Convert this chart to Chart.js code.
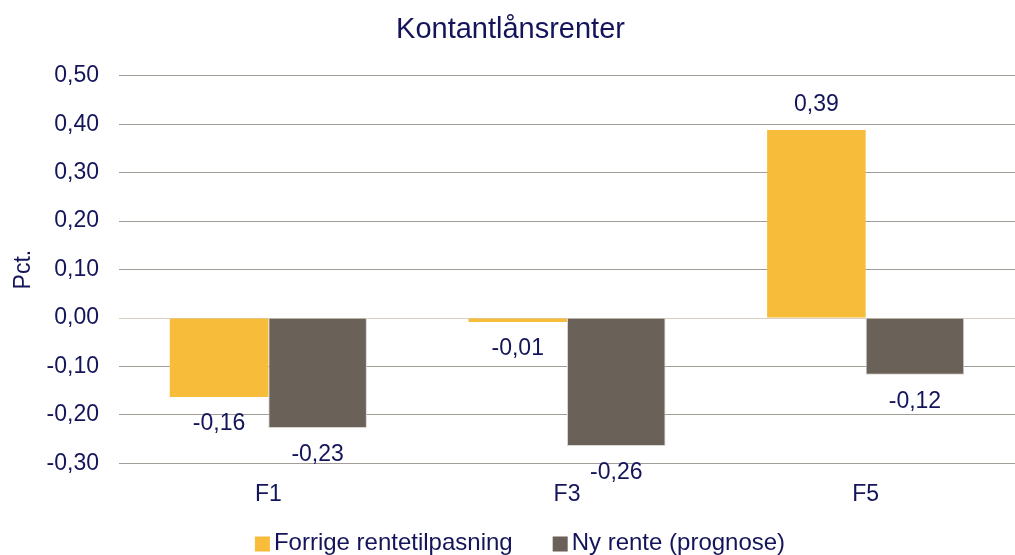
<!DOCTYPE html>
<html>
<head>
<meta charset="utf-8">
<script src="https://cdn.jsdelivr.net/npm/chart.js@4"></script>
<style>
  html, body { margin: 0; padding: 0; background: #fff; }
  #wrap { width: 1015px; height: 555px; }
</style>
</head>
<body>
<div id="wrap"><canvas id="myChart" width="1015" height="555"></canvas></div>
<script>
// data
const categories = ['F1', 'F3', 'F5'];
const forrige = [-0.163, -0.008, 0.388];
const nyRente = [-0.227, -0.264, -0.117];
const yTicks = [-0.3, -0.2, -0.1, 0, 0.1, 0.2, 0.3, 0.4, 0.5];

const textColor = '#14145a';
const fontFam = '"Liberation Sans", Arial, sans-serif';
const fmt = v => v.toFixed(2).replace('.', ',');

// value labels: above positive bars, below negative
const barLabels = {
  id: 'barLabels',
  afterDatasetsDraw(chart) {
    const ctx = chart.ctx;
    ctx.save();
    ctx.font = '23px ' + fontFam;
    ctx.fillStyle = textColor;
    ctx.textAlign = 'center';
    ctx.textBaseline = 'middle';
    chart.data.datasets.forEach((ds, i) => {
      chart.getDatasetMeta(i).data.forEach((bar, j) => {
        const v = ds.data[j];
        const y = v >= 0 ? bar.y - 25 : bar.y + 27;
        ctx.fillText(fmt(v), bar.x, y);
      });
    });
    ctx.restore();
  }
};

// legend drawn by hand so the items can sit far apart but close to the bottom
const bottomLegend = {
  id: 'bottomLegend',
  afterDraw(chart) {
    const ctx = chart.ctx;
    const box = 15, gap = 4, spacing = 40, y = 543;
    ctx.save();
    ctx.font = '24px ' + fontFam;
    ctx.textBaseline = 'middle';
    const items = chart.data.datasets.map(ds => ({
      text: ds.label, color: ds.backgroundColor, w: ctx.measureText(ds.label).width
    }));
    let total = 0;
    items.forEach((it, i) => { total += box + gap + it.w + (i ? spacing : 0); });
    let x = 520 - total / 2;
    items.forEach(it => {
      ctx.fillStyle = it.color;
      ctx.fillRect(x, y - box / 2 + 1, box, box);
      ctx.fillStyle = textColor;
      ctx.fillText(it.text, x + box + gap, y);
      x += box + gap + it.w + spacing;
    });
    ctx.restore();
  }
};

const config = {
  type: 'bar',
  data: {
    labels: categories,
    datasets: [{
      label: 'Forrige rentetilpasning',
      data: forrige,
      backgroundColor: '#f8bc3b',
      categoryPercentage: 0.66,
      barPercentage: 1
    }, {
      label: 'Ny rente (prognose)',
      data: nyRente,
      backgroundColor: '#6a6158',
      borderColor: '#d8d4cf',
      borderWidth: 1,
      categoryPercentage: 0.66,
      barPercentage: 1
    }]
  },
  options: {
    responsive: false,
    animation: false,
    layout: { padding: { left: 6, right: 0, top: 0, bottom: 38 } },
    plugins: {
      title: {
        display: true,
        text: 'Kontantlånsrenter',
        color: textColor,
        font: { family: fontFam, size: 29, weight: 'normal' },
        padding: { top: 13, bottom: 28 }
      },
      legend: { display: false },
      tooltip: { enabled: false }
    },
    scales: {
      x: {
        grid: { display: false },
        border: { display: false },
        ticks: {
          color: textColor,
          font: { family: fontFam, size: 23 },
          padding: 9
        }
      },
      y: {
        min: -0.3,
        max: 0.5,
        afterBuildTicks: axis => { axis.ticks = yTicks.map(v => ({ value: v })); },
        afterFit: axis => { axis.width = 113; },
        border: { display: false },
        grid: {
          color: ctx => ctx.tick && ctx.tick.value === 0 ? '#d9cfc2' : '#a39d97',
          lineWidth: 1,
          drawTicks: false
        },
        ticks: {
          color: textColor,
          font: { family: fontFam, size: 23 },
          padding: 20,
          callback: v => fmt(v)
        },
        title: {
          display: true,
          text: 'Pct.',
          color: textColor,
          font: { family: fontFam, size: 23 },
          padding: { bottom: 8 }
        }
      }
    }
  },
  plugins: [barLabels, bottomLegend]
};

var myChart = new Chart(document.getElementById('myChart'), config);
</script>
</body>
</html>
